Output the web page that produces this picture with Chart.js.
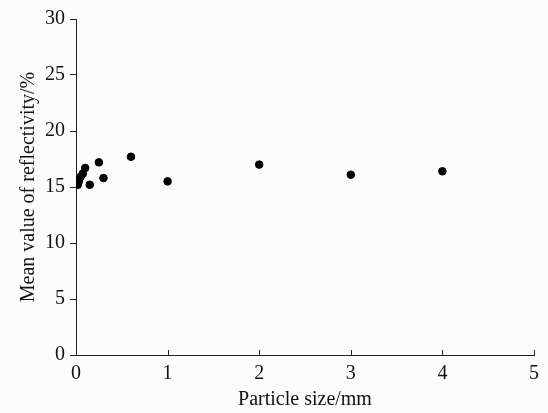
<!DOCTYPE html>
<html><head><meta charset="utf-8">
<script src="https://cdn.jsdelivr.net/npm/chart.js@4/dist/chart.umd.min.js"></script>
<style>html,body{margin:0;padding:0;background:#fcfcfc;}#wrap{width:548px;height:413px;}</style>
</head><body><div id="wrap"><canvas id="c"></canvas></div>
<script>
const particleSize = [0.02,0.03,0.05,0.075,0.1,0.15,0.25,0.3,0.6,1,2,3,4];
const reflectivity = [15.2,15.5,15.9,16.2,16.7,15.2,17.2,15.8,17.7,15.5,17.0,16.1,16.4];
const xTicks = [0,1,2,3,4,5];
const yTicks = [0,5,10,15,20,25,30];
const xTitle = 'Particle size/mm';
const yTitle = 'Mean value of reflectivity/%';

const FONT = "'Liberation Serif','Times New Roman',serif";
const innerTicks = {
  id:'innerTicks',
  afterDraw(chart){
    const ctx=chart.ctx, xs=chart.scales.x, b=chart.chartArea.bottom;
    ctx.save(); ctx.strokeStyle='#222'; ctx.lineWidth=1;
    xTicks.forEach(v=>{ const px=Math.round(xs.getPixelForValue(v))+0.5;
      ctx.beginPath(); ctx.moveTo(px,b); ctx.lineTo(px,b-5); ctx.stroke();});
    ctx.restore();
  }
};
new Chart(document.getElementById('c'),{
  type:'scatter',
  data:{datasets:[{data:particleSize.map((x,i)=>({x,y:reflectivity[i]})),
    backgroundColor:'#000',borderColor:'#000',pointRadius:3.8,pointHoverRadius:3.8}]},
  options:{
    responsive:true,maintainAspectRatio:false,animation:false,
    layout:{padding:{left:0,right:14,top:19,bottom:0}},
    plugins:{legend:{display:false},tooltip:{enabled:false}},
    scales:{
      x:{type:'linear',min:0,max:5,
        afterBuildTicks:s=>{s.ticks=xTicks.map(v=>({value:v}));},
        afterFit:s=>{s.height=58;},
        grid:{display:true,drawOnChartArea:false,drawTicks:false},
        border:{display:true,color:'#222',width:1},
        ticks:{color:'#111',font:{family:FONT,size:20},padding:7,maxRotation:0},
        title:{display:true,text:xTitle,color:'#111',font:{family:FONT,size:20},padding:{top:0,bottom:1}}
      },
      y:{type:'linear',min:0,max:30,
        afterBuildTicks:s=>{s.ticks=yTicks.map(v=>({value:v}));},
        afterFit:s=>{s.width=76;},
        grid:{display:true,drawOnChartArea:false,drawTicks:true,tickLength:6,color:'#222'},
        border:{display:true,color:'#222',width:1},
        ticks:{color:'#111',font:{family:FONT,size:20},padding:5},
        title:{display:true,text:yTitle,color:'#111',font:{family:FONT,size:20},padding:{top:17,bottom:0}}
      }
    }
  },
  plugins:[innerTicks]
});
</script></body></html>
